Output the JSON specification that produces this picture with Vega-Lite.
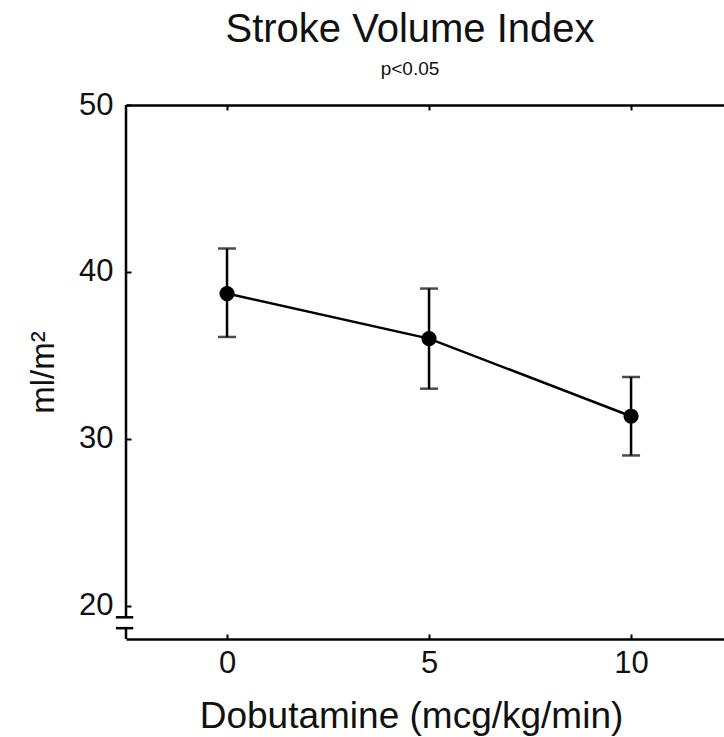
{
  "$schema": "https://vega.github.io/schema/vega-lite/v6.json",
  "width": 598,
  "height": 534,
  "autosize": {"type": "none"},
  "padding": {"left": 126, "top": 105, "right": 0, "bottom": 98},
  "background": "white",
  "config": {
    "font": "Liberation Sans",
    "view": {"stroke": null}
  },
  "title": {
    "text": "Stroke Volume Index",
    "subtitle": "p<0.05",
    "fontSize": 40,
    "fontWeight": "normal",
    "color": "#111",
    "subtitleFontSize": 19,
    "subtitleColor": "#111",
    "subtitlePadding": 10,
    "anchor": "middle",
    "dx": -15,
    "offset": 10
  },
  "datasets": {
    "pts": [
      {"dose": 0, "svi": 38.7, "lo": 36.1, "hi": 41.4},
      {"dose": 5, "svi": 36.0, "lo": 33.0, "hi": 39.0},
      {"dose": 10, "svi": 31.35, "lo": 29.0, "hi": 33.7}
    ],
    "yaxis": [
      {"x": -2.5, "y": 50, "y2": 19.3},
      {"x": -2.5, "y": 18.65, "y2": 18}
    ],
    "brk": [
      {"x": -2.75, "x2": -2.32, "y": 19.3},
      {"x": -2.75, "x2": -2.32, "y": 18.65}
    ]
  },
  "resolve": {"axis": {"x": "independent"}},
  "layer": [
    {
      "data": {"name": "pts"},
      "mark": {"type": "line", "color": "black", "strokeWidth": 2.5},
      "encoding": {
        "x": {
          "field": "dose", "type": "quantitative",
          "scale": {"domain": [-2.5, 12.3], "nice": false, "zero": false},
          "axis": {
            "orient": "bottom",
            "values": [0, 5, 10],
            "title": "Dobutamine (mcg/kg/min)",
            "titleFontSize": 37,
            "titleFontWeight": "normal",
            "titleColor": "#111",
            "titlePadding": 20,
            "titleX": 285,
            "titleAnchor": "middle",
            "labelFontSize": 31,
            "labelColor": "#111",
            "labelPadding": 14,
            "tickSize": -5,
            "tickWidth": 2,
            "tickColor": "black",
            "domainColor": "black",
            "domainWidth": 2.5,
            "grid": false
          }
        },
        "y": {
          "field": "svi", "type": "quantitative",
          "scale": {"domain": [18, 50], "nice": false, "zero": false},
          "axis": {
            "values": [20, 30, 40, 50],
            "title": "ml/m²",
            "titleFontSize": 33,
            "titleFontWeight": "normal",
            "titleColor": "#111",
            "titlePadding": 18,
            "labelFontSize": 31,
            "labelColor": "#111",
            "labelPadding": 18,
            "tickSize": -5,
            "tickWidth": 2,
            "tickColor": "black",
            "domain": false,
            "grid": false
          }
        }
      }
    },
    {
      "data": {"name": "pts"},
      "mark": {"type": "rule", "color": "black", "strokeWidth": 2.5},
      "encoding": {
        "x": {"field": "dose", "type": "quantitative", "axis": {"orient": "top", "values": [0, 5, 10], "labels": false, "title": null, "tickSize": -5, "tickWidth": 2, "tickColor": "black", "domainColor": "black", "domainWidth": 2.5, "grid": false}},
        "y": {"field": "lo", "type": "quantitative"},
        "y2": {"field": "hi"}
      }
    },
    {
      "data": {"name": "pts"},
      "mark": {"type": "tick", "color": "black", "orient": "horizontal", "size": 18, "thickness": 2.5},
      "encoding": {
        "x": {"field": "dose", "type": "quantitative", "axis": null},
        "y": {"field": "lo", "type": "quantitative"}
      }
    },
    {
      "data": {"name": "pts"},
      "mark": {"type": "tick", "color": "black", "orient": "horizontal", "size": 18, "thickness": 2.5},
      "encoding": {
        "x": {"field": "dose", "type": "quantitative", "axis": null},
        "y": {"field": "hi", "type": "quantitative"}
      }
    },
    {
      "data": {"name": "pts"},
      "mark": {"type": "circle", "color": "black", "opacity": 1, "size": 230},
      "encoding": {
        "x": {"field": "dose", "type": "quantitative", "axis": null},
        "y": {"field": "svi", "type": "quantitative"}
      }
    },
    {
      "data": {"name": "yaxis"},
      "mark": {"type": "rule", "color": "black", "strokeWidth": 2.5},
      "encoding": {
        "x": {"field": "x", "type": "quantitative", "axis": null},
        "y": {"field": "y", "type": "quantitative"},
        "y2": {"field": "y2"}
      }
    },
    {
      "data": {"name": "brk"},
      "mark": {"type": "rule", "color": "black", "strokeWidth": 2.5, "clip": false},
      "encoding": {
        "x": {"field": "x", "type": "quantitative", "axis": null},
        "x2": {"field": "x2"},
        "y": {"field": "y", "type": "quantitative"}
      }
    }
  ]
}
